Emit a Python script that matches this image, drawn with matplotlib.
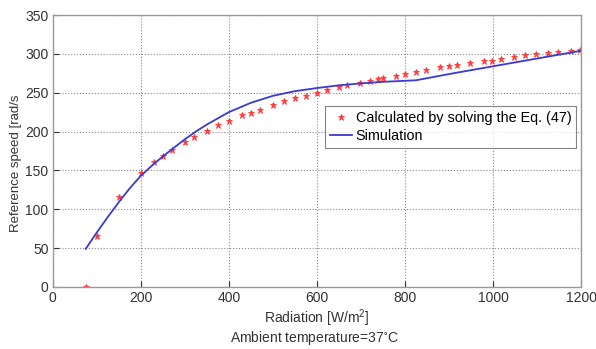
import matplotlib
matplotlib.use("Agg")
import matplotlib.pyplot as plt

plt.rcParams['font.family'] = ['Liberation Sans', 'DejaVu Sans']
plt.rcParams['mathtext.default'] = 'regular'

calc_x = [75, 101, 151, 200, 231, 251, 271, 301, 321, 350, 376, 401, 431, 451, 470,
          501, 526, 550, 575, 600, 624, 650, 668, 698, 720, 739, 750, 780, 799, 825,
          848, 879, 899, 918, 948, 979, 998, 1019, 1048, 1073, 1098, 1124, 1148, 1177, 1198]
calc_y = [0, 65, 116, 147, 161, 169, 176, 186, 193, 201, 208, 214, 221, 224, 228,
          234, 239, 243, 246, 250, 253, 257, 260, 263, 265, 268, 268.5, 272, 274.5, 276.6,
          279.6, 282.6, 284, 285.7, 288, 290.8, 291.3, 293.4, 296, 298, 300, 301, 302, 304, 305]

sim_x = [75, 100, 125, 150, 175, 200, 225, 250, 275, 300, 325, 350, 375, 400, 450, 500,
         550, 600, 650, 700, 750, 825, 900, 1000, 1100, 1200]
sim_y = [49, 70, 90, 109, 127, 143, 156, 168, 179, 190, 200, 209, 217, 225, 237, 246,
         252, 256, 259.5, 262, 264, 266, 274, 284, 294, 304]

x_ticks = [0, 200, 400, 600, 800, 1000, 1200]
y_ticks = [0, 50, 100, 150, 200, 250, 300, 350]

fig = plt.figure(figsize=(5.96, 3.49), dpi=100)
ax = fig.add_axes([0.0884, 0.1777, 0.975 - 0.0884, 0.957 - 0.1777])

ax.plot(calc_x, calc_y, linestyle='none', marker='*', color='#ff3b3b', markersize=4.5,
        markeredgewidth=0.6, label='Calculated by solving the Eq. (47)')
ax.plot(sim_x, sim_y, color='#3a3ad6', linewidth=1.3, label='Simulation')

ax.set_xlim(0, 1200)
ax.set_ylim(0, 350)
ax.set_xticks(x_ticks)
ax.set_yticks(y_ticks)
ax.tick_params(direction='in', length=4, labelsize=10, colors='#333333', pad=3)
ax.grid(True, linestyle=':', color='#888888', linewidth=0.8)
for s in ax.spines.values():
    s.set_color('#999999')
    s.set_linewidth(1.0)

ax.set_xlabel('Radiation [W/m$^2$]', fontsize=10, color='#333333', labelpad=1.5)
fig.text(0.528, 1 - 338 / 349, 'Ambient temperature=37$^{\\circ}$C', fontsize=10,
         color='#333333', ha='center', va='center')
ax.set_ylabel('Reference speed [rad/s', fontsize=9.5, color='#333333')
ax.yaxis.set_label_coords(-0.058, 0.456)

leg = ax.legend(loc='upper right', bbox_to_anchor=(0.991, 0.665), fontsize=10.4,
                frameon=True, fancybox=False, edgecolor='#666666', handlelength=1.5,
                handletextpad=0.25, borderpad=0.35, labelspacing=0.25, borderaxespad=0)
leg.get_frame().set_linewidth(0.8)

fig.savefig('out.png', dpi=100, facecolor='white')
